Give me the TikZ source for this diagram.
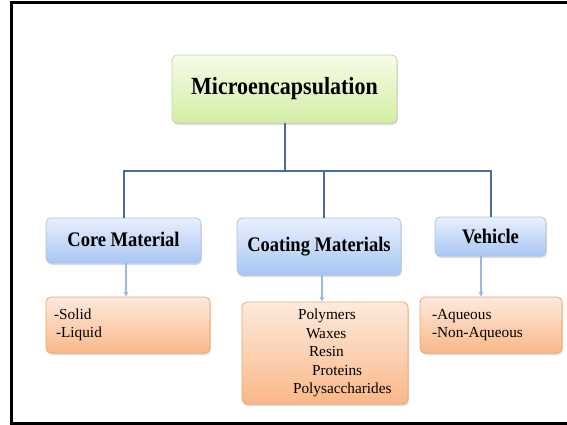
\documentclass[tikz,border=0pt]{standalone}
\usepackage{fontspec}
\usepackage{graphicx}
\setmainfont{Liberation Serif}
\usetikzlibrary{shadows,arrows.meta}
\definecolor{gtop}{HTML}{F6FCE8}
\definecolor{gbot}{HTML}{D3EDA4}
\definecolor{gline}{HTML}{C5D6A6}
\definecolor{btop}{HTML}{E9F0FC}
\definecolor{bbot}{HTML}{A8C6F4}
\definecolor{bline}{HTML}{AFC3DF}
\definecolor{otop}{HTML}{FDEADD}
\definecolor{obot}{HTML}{F9B888}
\definecolor{oline}{HTML}{F2A46B}
\definecolor{conn}{HTML}{4A6C9C}
\definecolor{arr}{HTML}{9CB9DE}
\newcommand{\vstretch}[1]{\scalebox{1}[1.12]{#1}}
\tikzset{
  boxbase/.style={rounded corners=5pt, inner sep=0pt, line width=0.8pt,
    drop shadow={shadow xshift=0.8pt, shadow yshift=-1.8pt, opacity=0.3}},
  topbox/.style={boxbase, draw=gline, top color=gtop, bottom color=gbot,
    font=\fontsize{22}{24}\selectfont\bfseries},
  subbox/.style={boxbase, draw=bline, top color=btop, bottom color=bbot,
    font=\fontsize{18.5}{20}\selectfont\bfseries},
  resbox/.style={boxbase, draw=oline, top color=otop, bottom color=obot,
    font=\fontsize{15.3}{18.5}\selectfont, align=left},
  connline/.style={draw=conn, line width=2pt},
  arrline/.style={draw=arr, line width=1.3pt, -{Stealth[length=5pt,width=5pt]}}
}
\begin{document}
\begin{tikzpicture}[x=1pt,y=-1pt]
\useasboundingbox (0,0) rectangle (567,425);
\draw[line width=3pt] (567,3) -- (11.5,3) -- (11.5,423) -- (567,423);

\node[topbox, minimum width=225pt, minimum height=68pt] (micro) at (284.5,89) {\vstretch{Microencapsulation}};
\node[subbox, minimum width=155pt, minimum height=45pt] (core) at (123.5,240.5) {\raisebox{2pt}{\vstretch{Core Material}}};
\node[subbox, minimum width=164pt, minimum height=57pt] (coat) at (319,246.5) {\raisebox{1pt}{\vstretch{Coating Materials}}};
\node[subbox, minimum width=111pt, minimum height=39pt] (veh) at (490.5,236.5) {\vstretch{Vehicle}};

\node[resbox, minimum height=56pt, text width=148pt, inner xsep=8pt] (res1) at (128,325)
  {-Solid\\\hspace*{2pt}-Liquid};
\node[resbox, minimum height=102pt, text width=166pt, inner xsep=0pt] (res2) at (325,353)
  {\hspace*{56pt}Polymers\\\hspace*{64pt}Waxes\\\hspace*{67pt}Resin\\\hspace*{70pt}Proteins\\\hspace*{51pt}Polysaccharides};
\node[resbox, minimum height=56pt, text width=118pt, inner xsep=12pt] (res3) at (491,325)
  {-Aqueous\\-Non-Aqueous};

\coordinate (j) at (284.5,171);
\draw[connline] (micro.south) -- (j);
\draw[connline] (j) -| (core.north);
\draw[connline] (j) -| ([xshift=5pt]coat.north);
\draw[connline] (j) -| (veh.north);

\draw[arrline] ([xshift=2.5pt]core.south) -- ([xshift=2.5pt]core.south |- res1.north);
\draw[arrline] ([xshift=3pt]coat.south) -- ([xshift=3pt]coat.south |- res2.north);
\draw[arrline] ([xshift=-9.5pt]veh.south) -- ([xshift=-9.5pt]veh.south |- res3.north);
\end{tikzpicture}
\end{document}
